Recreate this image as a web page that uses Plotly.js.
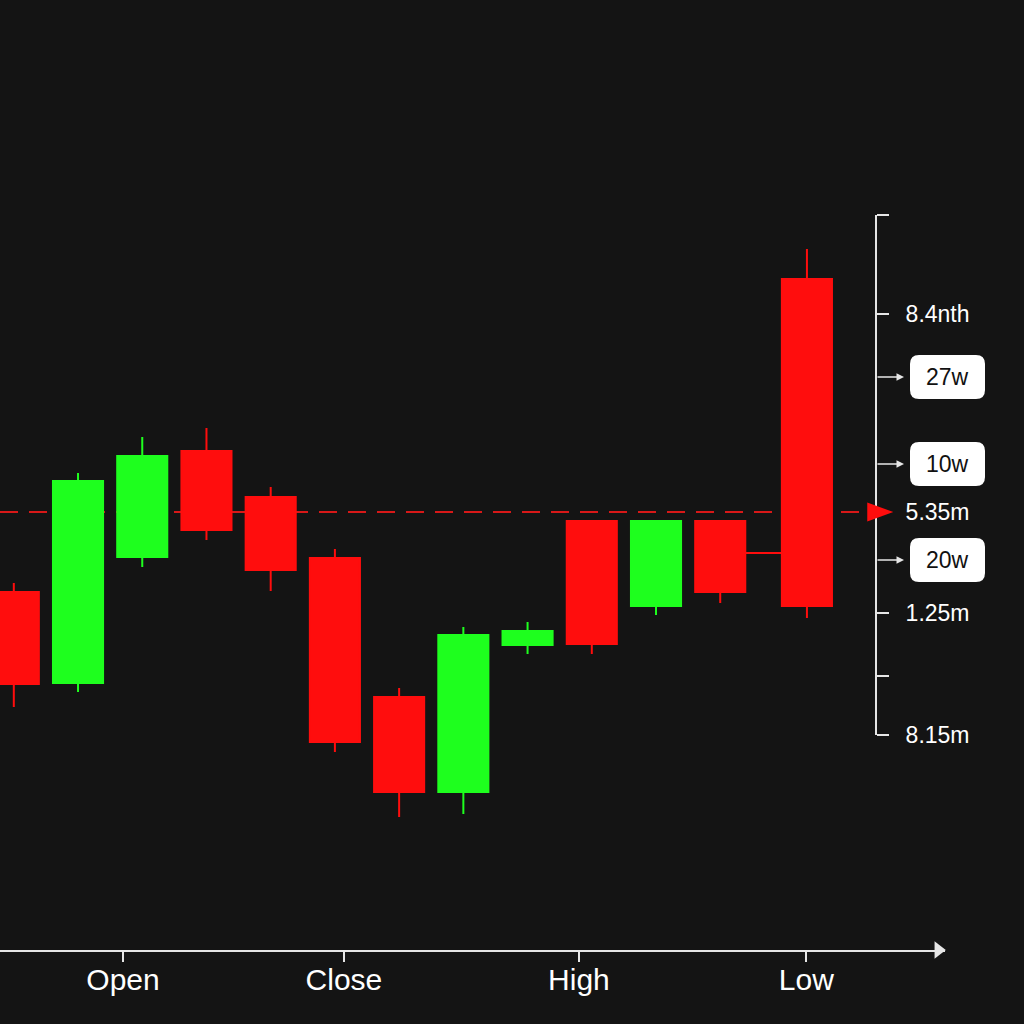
<!DOCTYPE html>
<html>
<head>
<meta charset="utf-8">
<script src="https://cdn.plot.ly/plotly-3.0.1.min.js"></script>
<style>
  html, body { margin: 0; padding: 0; background: #141414; }
  #chart { width: 1024px; height: 1024px; }
</style>
</head>
<body>
<div id="chart"></div>
<script>
// ---- data ----
var candleX = [0, 1, 2, 3, 4, 5, 6, 7, 8, 9, 10, 11, 12.35];
var openV  = [40.8, 31.7, 44.3, 54.9, 50.3, 44.2, 30.3, 20.8, 35.5, 47.9, 39.4, 47.9, 72.1];
var highV  = [41.7, 52.7, 56.3, 57.2, 51.3, 45.1, 31.2, 37.3, 37.8, 47.9, 47.9, 47.9, 75.1];
var lowV   = [29.3, 30.8, 43.3, 46.0, 40.9, 24.8, 18.3, 18.6, 34.6, 34.6, 38.5, 39.7, 38.2];
var closeV = [31.6, 51.9, 54.4, 47.0, 43.0, 25.8, 20.8, 36.5, 36.9, 35.6, 47.9, 40.8, 39.4];

var xTickVals = [1.70, 5.14, 8.80, 12.34];
var xTickText = ['Open', 'Close', 'High', 'Low'];

var yTickVals = [78.5, 68.6, 48.8, 38.7, 32.4, 26.5];
var yTickText = ['', '8.4nth', '5.35m', '1.25m', '', '8.15m'];

var boxLevels = [62.3, 53.6, 44.0];
var boxLabels = ['27w', '10w', '20w'];

var refLevel = 48.8;          // dashed red line (5.35m)
var connectorLevel = 44.7;    // short link between last two candles

// ---- styling ----
var RED = '#ff0d0d', GREEN = '#1eff1e', BG = '#141414', AX = '#e6e6e6';
var FONT = 'Liberation Sans, Arial, sans-serif';
var boxGap = 0.22;
var halfW = (1 - boxGap) / 2;
var axisPos = 876 / 945;
var axisX = (876 - 13.8) / 64.2;   // right axis position in x units
var boxX = 947.5 / 945;
var arrowTipX = 904 / 945;

function roundRect(w, h, r) {
  var x0 = -w / 2, x1 = w / 2, y0 = -h / 2, y1 = h / 2;
  return 'M' + (x0 + r) + ',' + y0 + ' L' + (x1 - r) + ',' + y0 +
    ' Q' + x1 + ',' + y0 + ' ' + x1 + ',' + (y0 + r) +
    ' L' + x1 + ',' + (y1 - r) +
    ' Q' + x1 + ',' + y1 + ' ' + (x1 - r) + ',' + y1 +
    ' L' + (x0 + r) + ',' + y1 +
    ' Q' + x0 + ',' + y1 + ' ' + x0 + ',' + (y1 - r) +
    ' L' + x0 + ',' + (y0 + r) +
    ' Q' + x0 + ',' + y0 + ' ' + (x0 + r) + ',' + y0 + ' Z';
}

var traces = [
  {
    type: 'candlestick',
    x: candleX, open: openV, high: highV, low: lowV, close: closeV,
    increasing: { line: { color: GREEN, width: 2 }, fillcolor: GREEN },
    decreasing: { line: { color: RED, width: 2 }, fillcolor: RED },
    whiskerwidth: 0,
    showlegend: false, hoverinfo: 'skip'
  },
  { // x-axis arrow head
    type: 'scatter', mode: 'markers',
    x: [(938 - 13.8) / 64.2], y: [5],
    marker: { symbol: 'triangle-right', size: 15, color: AX },
    cliponaxis: false, showlegend: false, hoverinfo: 'skip'
  },
  { // dummy trace to render right axis
    type: 'scatter', mode: 'markers', x: [null], y: [null],
    yaxis: 'y2', showlegend: false, hoverinfo: 'skip'
  }
];

var shapes = [
  {
    type: 'line', layer: 'below', xref: 'x', yref: 'y',
    x0: -0.215, x1: axisX - 0.14, y0: refLevel, y1: refLevel,
    line: { color: '#d81818', width: 2, dash: '18px,11px' }
  },
  {
    type: 'line', layer: 'below', xref: 'x', yref: 'y',
    x0: candleX[11] + halfW, x1: candleX[12] - halfW,
    y0: connectorLevel, y1: connectorLevel,
    line: { color: RED, width: 2 }
  },
  { // red arrow head on the axis
    type: 'path', layer: 'above', xref: 'x', yref: 'y',
    xsizemode: 'pixel', ysizemode: 'pixel',
    xanchor: axisX, yanchor: refLevel,
    path: 'M -9,-9.5 L 17,0 L -9,9.5 Z',
    fillcolor: RED, line: { width: 0 }
  }
];

var annotations = [];
boxLevels.forEach(function (lv, i) {
  shapes.push({
    type: 'path', xref: 'paper', yref: 'y2',
    xsizemode: 'pixel', ysizemode: 'pixel',
    xanchor: boxX, yanchor: lv,
    path: roundRect(75, 44, 9),
    fillcolor: '#ffffff', line: { width: 0 }
  });
  annotations.push({
    xref: 'paper', yref: 'y2', x: boxX, y: lv,
    text: boxLabels[i], showarrow: false,
    font: { family: FONT, size: 23, color: '#111111' },
    xanchor: 'center', yanchor: 'middle'
  });
  annotations.push({
    xref: 'paper', yref: 'y2', x: arrowTipX, y: lv,
    text: '', showarrow: true, ax: -28, ay: 0,
    arrowhead: 2, arrowsize: 1, arrowwidth: 1.5, arrowcolor: AX
  });
});

var layout = {
  width: 1024, height: 1024,
  margin: { l: 0, r: 79, t: 0, b: 74 },
  paper_bgcolor: BG, plot_bgcolor: 'rgba(0,0,0,0)',
  showlegend: false,
  boxgap: boxGap, boxgroupgap: 0,
  font: { family: FONT, color: '#ffffff' },
  xaxis: {
    range: [-0.215, 14.5],
    rangeslider: { visible: false },
    showgrid: false, zeroline: false,
    showline: true, linecolor: AX, linewidth: 2,
    ticks: 'outside', ticklen: 10, tickwidth: 2, tickcolor: AX,
    tickmode: 'array', tickvals: xTickVals, ticktext: xTickText,
    tickfont: { family: FONT, size: 30, color: '#ffffff' },
    ticklabelstandoff: -8,
    fixedrange: true
  },
  yaxis: {
    range: [5, 100],
    showgrid: false, zeroline: false, showline: false,
    showticklabels: false, ticks: '', fixedrange: true
  },
  yaxis2: {
    domain: [(950 - 735) / 950, (950 - 215) / 950],
    range: [26.5, 78.5],
    anchor: 'free', position: axisPos, side: 'right',
    showgrid: false, zeroline: false,
    showline: true, linecolor: AX, linewidth: 2,
    ticks: 'outside', ticklen: 12, tickwidth: 2, tickcolor: AX,
    tickmode: 'array', tickvals: yTickVals, ticktext: yTickText,
    tickfont: { family: FONT, size: 23, color: '#ffffff' },
    ticklabelstandoff: 12,
    fixedrange: true
  },
  shapes: shapes,
  annotations: annotations
};

Plotly.newPlot('chart', traces, layout, { staticPlot: true, displayModeBar: false });
</script>
</body>
</html>
